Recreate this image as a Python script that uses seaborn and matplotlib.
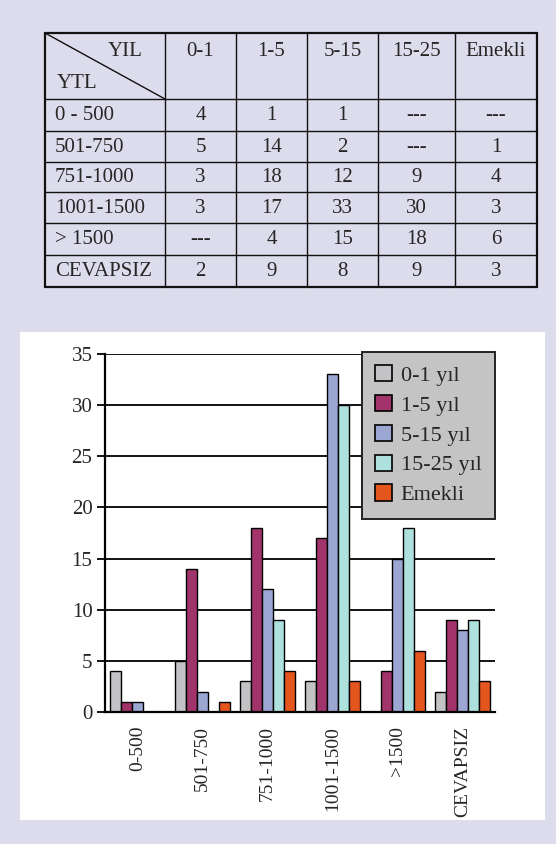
import numpy as np
import pandas as pd
import matplotlib
matplotlib.use("Agg")
import matplotlib.pyplot as plt
from matplotlib.patches import Rectangle
import seaborn as sns

# Income brackets (YTL) and years of service (YIL)
brackets_table = ["0 - 500", "501-750", "751-1000", "1001-1500", "> 1500", "CEVAPSIZ"]
brackets_chart = ["0-500", "501-750", "751-1000", "1001-1500", ">1500", "CEVAPSIZ"]
year_cols = ["0-1", "1-5", "5-15", "15-25", "Emekli"]
series_names = ["0-1 yıl", "1-5 yıl", "5-15 yıl", "15-25 yıl", "Emekli"]

# Counts per bracket; NaN marks "---" (no answer in that cell)
v_0_1 = [4, 5, 3, 3, np.nan, 2]
v_1_5 = [1, 14, 18, 17, 4, 9]
v_5_15 = [1, 2, 12, 33, 15, 8]
v_15_25 = [np.nan, np.nan, 9, 30, 18, 9]
v_emekli = [np.nan, 1, 4, 3, 6, 3]

yticks = [0, 5, 10, 15, 20, 25, 30, 35]
colors = ["#c3c3c5", "#a1346b", "#9ca6d2", "#aee0dd", "#e4561d"]

W, H = 556, 844
BG = "#dcdcec"
SERIF = ["Liberation Serif", "DejaVu Serif"]

sns.set_theme(style="white")
plt.rcParams["font.family"] = SERIF

fig = plt.figure(figsize=(W / 100, H / 100), dpi=100)
fig.patch.set_facecolor(BG)

# Canvas axes in pixel coordinates for the table and the white panel
canvas = fig.add_axes([0, 0, 1, 1])
canvas.set_xlim(0, W)
canvas.set_ylim(H, 0)
canvas.axis("off")

# white chart panel
canvas.add_patch(Rectangle((20, 332), 525, 488, facecolor="white", edgecolor="none"))

# ---- table ----
col_x = [45, 165, 236, 307, 378, 455, 537]
row_y = [33, 99, 131, 162, 192, 223, 255, 287]
for x in col_x:
    lw = 1.6 if x in (col_x[0], col_x[-1]) else 1.0
    canvas.plot([x, x], [row_y[0], row_y[-1]], color="#111111", lw=lw)
for y in row_y:
    lw = 1.6 if y in (row_y[0], row_y[-1]) else 1.0
    canvas.plot([col_x[0], col_x[-1]], [y, y], color="#111111", lw=lw)
canvas.plot([col_x[0], col_x[1]], [row_y[0], row_y[1]], color="#111111", lw=1.0)

tfs = 15
canvas.text(143, 52, "YIL", ha="right", va="center", fontsize=tfs)
canvas.text(57, 83, "YTL", ha="left", va="center", fontsize=tfs)
for j, name in enumerate(year_cols):
    cx = (col_x[j + 1] + col_x[j + 2]) / 2
    canvas.text(cx, 52, name, ha="center", va="center", fontsize=tfs)

columns = [v_0_1, v_1_5, v_5_15, v_15_25, v_emekli]
for i, lab in enumerate(brackets_table):
    cy = (row_y[i + 1] + row_y[i + 2]) / 2 + 1
    canvas.text(55, cy, lab, ha="left", va="center", fontsize=tfs)
    for j, col in enumerate(columns):
        cx = (col_x[j + 1] + col_x[j + 2]) / 2
        val = col[i]
        txt = "---" if np.isnan(val) else str(int(val))
        canvas.text(cx, cy, txt, ha="center", va="center", fontsize=tfs)

# ---- grouped bar chart ----
df = pd.DataFrame({
    "bracket": np.repeat(brackets_chart, len(series_names)),
    "series": series_names * len(brackets_chart),
    "value": np.array(columns).T.flatten(),
}).fillna(0)

left, right, top, bottom = 105, 495, 354, 712
ax = fig.add_axes([left / W, (H - bottom) / H, (right - left) / W, (bottom - top) / H])
ax.set_facecolor("white")
ax.set_axisbelow(True)
for y in yticks[1:]:
    ax.axhline(y, color="black", lw=1.3, zorder=0)

sns.barplot(data=df, x="bracket", y="value", hue="series", order=brackets_chart,
            hue_order=series_names, palette=colors, width=0.85, gap=0,
            edgecolor="black", linewidth=1.0, saturation=1, ax=ax, zorder=2)

ax.set_ylim(0, 35)
ax.set_xlim(-0.5, len(brackets_chart) - 0.5)
ax.set_yticks(yticks)
ax.set_yticklabels([str(t) for t in yticks], fontsize=15)
ax.set_xticks(range(len(brackets_chart)))
ax.set_xticklabels(brackets_chart, rotation=90, fontsize=14, va="top")
ax.tick_params(axis="y", which="both", left=True, length=6, width=1.3, pad=3, color="black")
ax.tick_params(axis="x", bottom=False, pad=4)
ax.set_xlabel("")
ax.set_ylabel("")
for s in ("top", "right"):
    ax.spines[s].set_visible(False)
for s in ("left", "bottom"):
    ax.spines[s].set_color("black")
    ax.spines[s].set_linewidth(1.6)

handles = [Rectangle((0, 0), 1, 1, facecolor=c, edgecolor="black", lw=1.2) for c in colors]
leg = ax.legend(handles, series_names, loc="upper right", bbox_to_anchor=(1.0, 1.006),
                fontsize=16, frameon=True, fancybox=False, framealpha=1,
                handlelength=0.75, handleheight=0.75, handletextpad=0.4,
                labelspacing=0.4, borderpad=0.6, borderaxespad=0)
leg.get_frame().set_facecolor("#c4c4c4")
leg.get_frame().set_edgecolor("#222222")
leg.get_frame().set_linewidth(1.4)
leg.set_zorder(5)

fig.savefig("out.png", dpi=100, facecolor=BG)
